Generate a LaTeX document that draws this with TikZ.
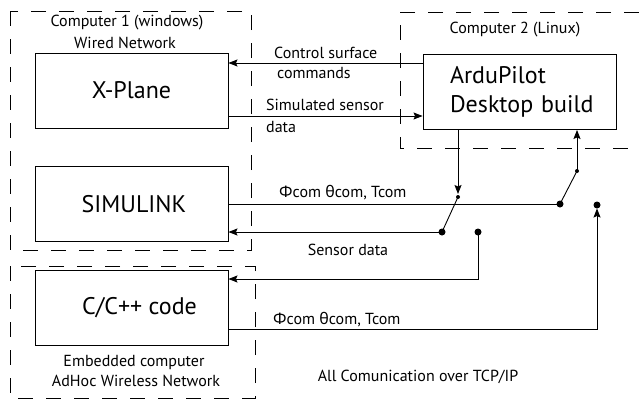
\documentclass[tikz,border=0pt]{standalone}
\usepackage{fontspec}
\setmainfont{PT Sans}
\newfontfamily\grk{Noto Sans}
\usetikzlibrary{arrows.meta}
\begin{document}
\begin{tikzpicture}[x=1pt,y=-1pt,
  box/.style={draw,line width=0.9pt,inner sep=0pt,minimum width=193pt,minimum height=75pt,font=\fontsize{24}{29}\selectfont},
  group/.style={draw,line width=0.9pt,dash pattern=on 15pt off 13pt},
  wire/.style={line width=0.9pt},
  arr/.style={wire,-{Stealth[length=9pt,width=7pt,inset=1.5pt]}},
  lbl/.style={inner sep=0pt,font=\fontsize{16}{19}\selectfont},
  bigdot/.style={circle,fill,inner sep=0pt,minimum size=7pt},
  smalldot/.style={circle,fill,inner sep=0pt,minimum size=4pt}]
\useasboundingbox (0,0) rectangle (639,400);
% groups
\draw[group] (10,11) rectangle (251,250);
\draw[group] (639,12) -- (400,12) -- (400,148) -- (639,148);
\draw[group] (10,266) rectangle (255,398);
\node[lbl] (g1a) at (127,23) {Computer 1 (windows)};
\node[lbl] (g1b) at (125,43) {Wired Network};
\node[lbl] (g2) at (515,30) {Computer 2 (Linux)};
\node[lbl] (g3a) at (134,362) {Embedded computer};
\node[lbl] (g3b) at (136,381) {AdHoc Wireless Network};
\node[lbl] (note) at (418,377) {All Comunication over TCP/IP};
% boxes
\node[box] (xp) at (131.5,90.5) {X-Plane};
\node[box] (sim) at (131.5,204) {\hspace*{5pt}SIMULINK};
\node[box] (cpp) at (131.5,307.5) {\hspace*{16pt}C/C++ code};
\node[box,align=left,text width=139pt] (ardu) at (519.5,92) {\mbox{ArduPilot}\\\mbox{Desktop build}};
% dots and helper coordinates
\coordinate (y63) at (0,63);
\coordinate (y116) at (0,116);
\coordinate (y279) at (0,279);
\coordinate (y329) at (0,329);
\node[bigdot] (d1) at (560,204) {};
\node[smalldot] (s2) at (577,171) {};
\node[smalldot] (s1) at (458,197) {};
\node[bigdot] (d2) at (442,232) {};
\node[bigdot] (d3) at (478,232) {};
\node[bigdot] (d4) at (597,205) {};
% connectors
\draw[arr] (ardu.west |- y63) -- (xp.east |- y63);
\draw[arr] (xp.east |- y116) -- (ardu.west |- y116);
\draw[wire] (sim.east |- d1) -- (d1.center);
\draw[wire] (d1.center) -- (s2.center);
\draw[arr] (s2.center) -- (s2 |- ardu.south);
\draw[arr] (ardu.south -| s1) -- ([yshift=3pt]s1.center);
\draw[wire] (s1.center) -- (d2.center);
\draw[arr] (d2.center) -- (sim.east |- d2);
\draw[arr] (d3.center) -- (d3 |- y279) -- (cpp.east |- y279);
\draw[arr] (cpp.east |- y329) -- (d4 |- y329) -- ([yshift=-3.5pt]d4.center);
% connector labels
\node[lbl,anchor=west] (l1a) at (274,53) {Control surface};
\node[lbl,anchor=west] (l1b) at (277,73) {commands};
\node[lbl,anchor=west] (l2a) at (266,105) {Simulated sensor};
\node[lbl,anchor=west] (l2b) at (266,127) {data};
\node[lbl,anchor=west] (l3) at (279,193) {{\grk Φ}com {\grk θ}com, Tcom};
\node[lbl] (l4) at (348,250) {Sensor data};
\node[lbl,anchor=west] (l5) at (273,320) {{\grk Φ}com {\grk θ}com, Tcom};
\end{tikzpicture}
\end{document}
